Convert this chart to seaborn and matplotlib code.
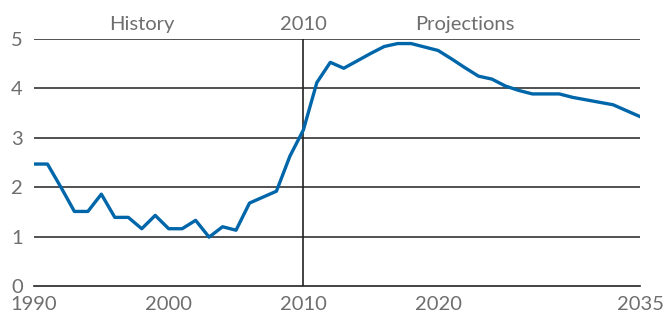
import numpy as np
import pandas as pd
import matplotlib
matplotlib.use('Agg')
import matplotlib.pyplot as plt
import seaborn as sns

# annual values
years = list(range(1990, 2036))
values = [2.47, 2.47, 2.00, 1.51, 1.51, 1.86, 1.39, 1.39, 1.16, 1.43,
          1.16, 1.16, 1.33, 0.99, 1.20, 1.13, 1.68, 1.80, 1.92, 2.63,
          3.16, 4.12, 4.53, 4.41, 4.56, 4.71, 4.85, 4.91, 4.91, 4.84,
          4.77, 4.60, 4.42, 4.25, 4.19, 4.05, 3.96, 3.89, 3.89, 3.89,
          3.82, 3.77, 3.72, 3.67, 3.55, 3.43]
x_ticks = [1990, 2000, 2010, 2020, 2035]
y_ticks = [0, 1, 2, 3, 4, 5]
top_labels = ['History', '2010', 'Projections']
top_label_x = [1998, 2010, 2022]

df = pd.DataFrame({'year': years, 'value': values})

sns.set_style('white')
plt.rcParams['font.family'] = ['Lato', 'DejaVu Sans']

fig = plt.figure(figsize=(6.64, 3.18), dpi=100)
ax = fig.add_axes([0.0512, 0.1006, 0.9128, 0.7764])

for y in y_ticks[1:]:
    ax.axhline(y, color='#333333', lw=1.2, zorder=1)
ax.axvline(2010, color='#222222', lw=1.2, zorder=1)

sns.lineplot(data=df, x='year', y='value', ax=ax, color='#0066aa', lw=2.4, zorder=3)

ax.set_xlim(1990, 2035)
ax.set_ylim(0, 5)
ax.set_xticks(x_ticks)
ax.set_yticks(y_ticks)
ax.set_xlabel('')
ax.set_ylabel('')

txt_color = '#6e6e6e'
for s in ['top', 'right', 'left']:
    ax.spines[s].set_visible(False)
ax.spines['bottom'].set_color('#222222')
ax.spines['bottom'].set_linewidth(1.2)
ax.tick_params(axis='x', direction='out', length=6, width=1.2, color='#222222',
               labelsize=14.5, labelcolor=txt_color, pad=1)
ax.tick_params(axis='y', length=0, labelsize=14.5, labelcolor=txt_color, pad=8)

for txt, xp in zip(top_labels, top_label_x):
    ax.text(xp, 5.12, txt, ha='center', va='bottom', fontsize=14.5,
            color=txt_color)

fig.savefig('out.png', dpi=100)
